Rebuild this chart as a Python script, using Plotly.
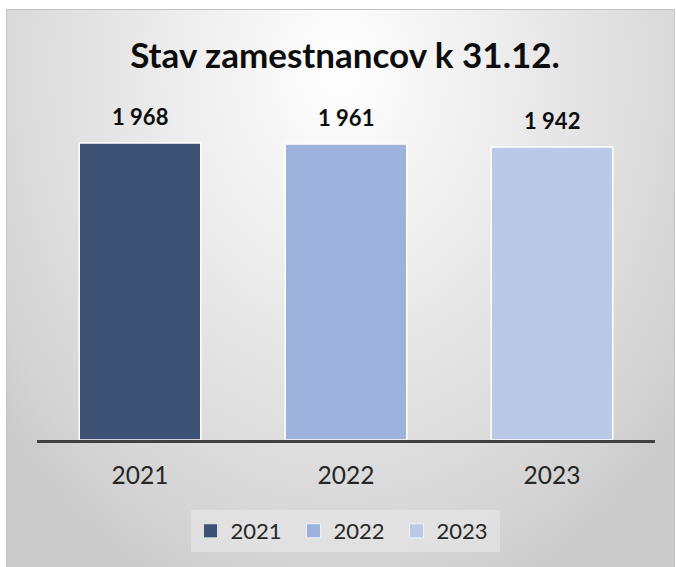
import base64
import plotly.graph_objects as go

# ---- data ----
years = ["2021", "2022", "2023"]
employees = [1968, 1961, 1942]
bar_colors = ["#3d5175", "#9cb1db", "#b9c9e6"]
title_text = "Stav zamestnancov k 31.12."

W, H = 676, 567
FONT = "Lato"

# ---- background panel: radial gradient as an SVG image (decoration only) ----
BX0, BY0, BX1, BY1 = 6, 9, 675, 567
bw, bh = BX1 - BX0, BY1 - BY0
cx, cy = 334, 61
svg = f'''<svg xmlns="http://www.w3.org/2000/svg" width="{bw}" height="{bh}" viewBox="0 0 {bw} {bh}">
<defs><radialGradient id="g" gradientUnits="userSpaceOnUse" cx="{cx}" cy="{cy}" r="560"
 gradientTransform="translate({cx} {cy}) scale(0.77 1) translate({-cx} {-cy})">
<stop offset="0" stop-color="#ffffff"/><stop offset="0.3" stop-color="#f1f1f1"/>
<stop offset="0.6" stop-color="#e2e2e2"/><stop offset="0.9" stop-color="#d3d3d3"/>
<stop offset="1" stop-color="#cbcbcb"/></radialGradient></defs>
<rect x="0" y="0" width="{bw}" height="{bh}" fill="url(#g)"/>
<rect x="0.5" y="0.5" width="{bw - 1}" height="{bh}" fill="none" stroke="#c4c4c4" stroke-width="1"/>
</svg>'''
svg_uri = "data:image/svg+xml;base64," + base64.b64encode(svg.encode()).decode()

fig = go.Figure()

# bars (legend shown through matching square-marker entries below)
for yr, val, col in zip(years, employees, bar_colors):
    fig.add_trace(go.Bar(
        x=[yr], y=[val], name=yr, legendgroup=yr, showlegend=False,
        marker=dict(color=col, line=dict(color="white", width=1.5)),
    ))
for yr, col in zip(years, bar_colors):
    fig.add_trace(go.Scatter(
        x=[None], y=[None], mode="markers", name=yr, legendgroup=yr,
        marker=dict(symbol="square", size=14, color=col,
                    line=dict(color="rgba(255,255,255,0.7)", width=1)),
    ))

# value labels above bars (x given as category index on the category axis)
for i, val in enumerate(employees):
    fig.add_annotation(
        x=i, y=val, xref="x", yref="y",
        text=f"{val:,}".replace(",", " "),
        showarrow=False, yanchor="bottom", yshift=11,
        font=dict(family=FONT, size=22, color="#0d0d0d", weight="bold"),
    )

fig.update_layout(
    width=W, height=H, autosize=False,
    margin=dict(l=0, r=0, t=0, b=0),
    paper_bgcolor="white", plot_bgcolor="rgba(0,0,0,0)",
    barmode="overlay", bargap=0.41,
    title=dict(text=title_text, x=345 / W, xanchor="center",
               y=1 - 56 / H, yanchor="middle",
               font=dict(family=FONT, size=35, color="#0d0d0d", weight="bold")),
    xaxis=dict(domain=[37 / W, 655 / W], type="category",
               categoryorder="array", categoryarray=years,
               range=[-0.5, len(years) - 0.5],
               showline=True, linecolor="#404040", linewidth=3,
               showgrid=False, zeroline=False, ticks="",
               ticklabelstandoff=12, fixedrange=True,
               tickfont=dict(family=FONT, size=24.5, color="#262626")),
    yaxis=dict(domain=[(H - 440) / H, (H - 100) / H],
               range=[0, 2253], visible=False, showgrid=False, fixedrange=True),
    legend=dict(orientation="h", x=345 / W, xanchor="center",
                y=1 - 531 / H, yanchor="middle",
                bgcolor="rgba(240,240,240,0.45)",
                font=dict(family=FONT, size=22, color="#262626"),
                entrywidth=58, entrywidthmode="pixels", itemwidth=30,
                itemclick=False, itemdoubleclick=False),
    images=[dict(source=svg_uri, xref="paper", yref="paper",
                 x=BX0 / W, y=1 - BY0 / H, sizex=bw / W, sizey=bh / H,
                 xanchor="left", yanchor="top", sizing="stretch", layer="below")],
)

fig.write_html("out.html")
